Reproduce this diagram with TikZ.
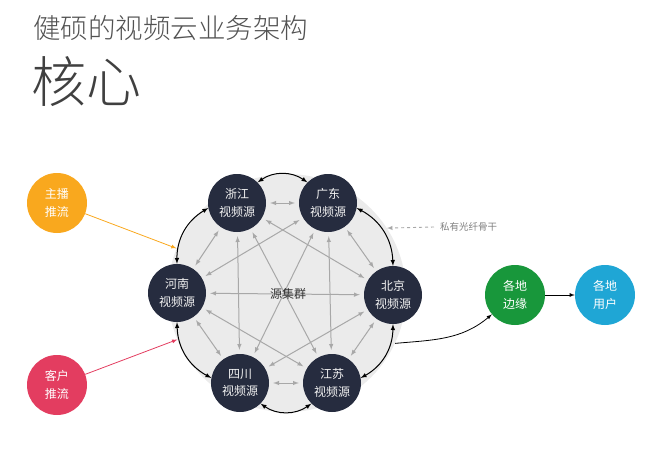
\documentclass[tikz,border=0pt]{standalone}
\usepackage{fontspec}
\newfontfamily\cjk{Noto Sans CJK SC}
\newfontfamily\cjklight{Noto Sans CJK SC Light}
\usetikzlibrary{arrows}
\definecolor{navy}{HTML}{262C3F}
\definecolor{ringgray}{HTML}{EBEBEB}
\definecolor{meshgray}{HTML}{A8A8A8}
\definecolor{pushorange}{HTML}{F9A81E}
\definecolor{pushred}{HTML}{E33D60}
\definecolor{edgegreen}{HTML}{18973B}
\definecolor{userblue}{HTML}{1FA6D5}
\begin{document}
\begin{tikzpicture}[x=1pt,y=-1pt,
	src/.style={circle,fill=navy,minimum size=58pt,inner sep=0pt,text=white!90!gray,align=center,font=\cjk\fontsize{12}{17.5}\selectfont},
	flat/.style={circle,minimum size=60pt,inner sep=0pt,text=white,align=center,font=\cjk\fontsize{12}{17.5}\selectfont},
	ring/.style={latex-latex,black,line width=1pt},
	mesh/.style={latex-latex,meshgray,line width=1pt,shorten <=4pt,shorten >=4pt}]
	\useasboundingbox (0,0) rectangle (646,466);

	% titles
	\node [anchor=west,inner sep=0pt,text=black!68,font=\cjklight\fontsize{27.5}{30}\selectfont] (title) at (33,28) {健硕的视频云业务架构};
	\node [anchor=west,inner sep=0pt,text=black!75,font=\cjklight\fontsize{55}{60}\selectfont] (core) at (31,82) {核心};

	% cluster
	\node [circle,fill=ringgray,minimum size=238pt,inner sep=0pt] (cluster) at (287,293) {};

	\node [src] (zj) at (237,203) {浙江\\视频源};
	\node [src] (gd) at (328,203) {广东\\视频源};
	\node [src] (bj) at (393,295) {北京\\视频源};
	\node [src] (js) at (332,383) {江苏\\视频源};
	\node [src] (sc) at (240,383) {四川\\视频源};
	\node [src] (hn) at (177,293) {河南\\视频源};

	% full mesh
	\foreach \a/\b in {zj/gd,gd/bj,bj/js,js/sc,sc/hn,hn/zj,zj/bj,zj/js,zj/sc,gd/js,gd/sc,gd/hn,bj/sc,bj/hn,js/hn}
		\draw [mesh] (\a) -- (\b);
	\node [inner sep=1pt,text=black!80,font=\cjk\fontsize{12}{14}\selectfont] (pool) at (288,294) {源集群};

	% ring around
	\draw [ring] (zj.45) to [bend left=35] (gd.135);
	\draw [ring] (gd.-10) to [bend left=30] (bj.90);
	\draw [ring] (bj.-90) to [bend left=30] (js.10);
	\draw [ring] (js.-135) to [bend left=35] (sc.-45);
	\draw [ring] (sc.170) to [bend left=30] (hn.-90);
	\draw [ring] (hn.90) to [bend left=30] (zj.190);

	% inputs
	\node [flat,fill=pushorange] (anchor) at (57,203) {主播\\推流};
	\node [flat,fill=pushred] (client) at (57,385) {客户\\推流};
	\draw [-latex,pushorange,line width=0.8pt] (anchor) -- (cluster.158);
	\draw [-latex,pushred,line width=0.8pt] (client) -- (cluster.203);

	% backbone
	\node [anchor=west,inner sep=0pt,text=black!50,font=\cjk\fontsize{9.5}{11}\selectfont] (fiber) at (440,227) {私有光纤骨干};
	\draw [-latex,dashed,meshgray,line width=0.9pt] (fiber.west) ++(-6,0) coordinate (fibertail) (fibertail) -- (cluster.33);

	% outputs
	\node [flat,fill=edgegreen] (edge) at (515,295) {各地\\边缘};
	\node [flat,fill=userblue] (user) at (605,295) {各地\\用户};
	\draw [-latex,black,line width=0.8pt] (cluster.-25) to [out=5,in=220] (edge.220);
	\draw [-latex,black,line width=0.8pt] (edge) -- (user);
\end{tikzpicture}
\end{document}
